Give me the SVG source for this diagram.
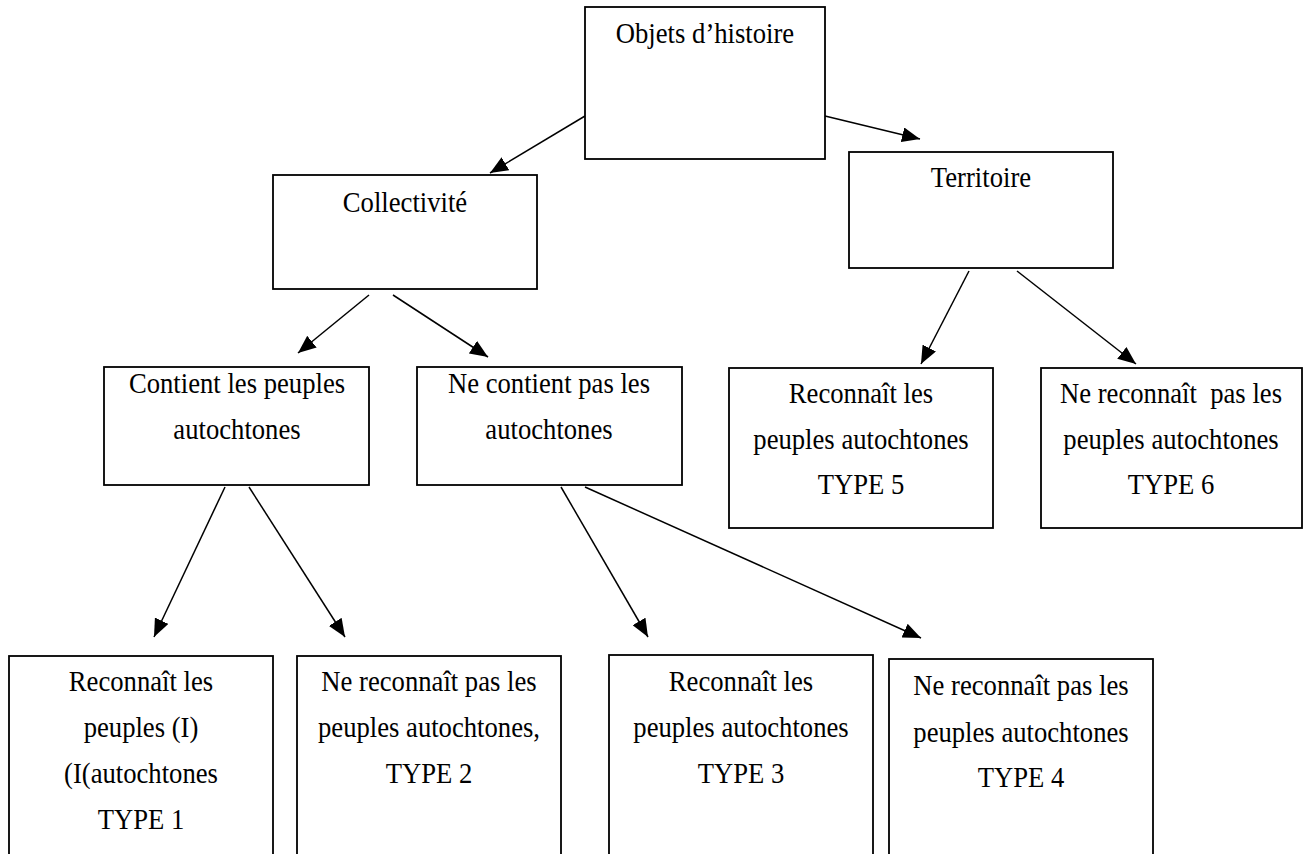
<svg xmlns="http://www.w3.org/2000/svg" width="1304" height="854" viewBox="0 0 1304 854">
<style>
.box{fill:#fff;stroke:#000;stroke-width:1.8}
.t{font-family:"Liberation Serif","Times New Roman",serif;font-size:26.67px;fill:#000;text-anchor:middle}
.c{stroke:#000;stroke-width:1.5;fill:none;marker-end:url(#ah)}
</style>
<defs>
<marker id="ah" markerUnits="userSpaceOnUse" markerWidth="18" markerHeight="15" refX="18" refY="7.5" orient="auto">
<path d="M0,0 L18,7.5 L0,15 z" fill="#000"/>
</marker>
</defs>
<rect width="1304" height="854" fill="#fff"/>
<g id="connectors">
<line class="c" x1="585" y1="116" x2="490" y2="173"/>
<line class="c" x1="825" y1="116" x2="920" y2="139"/>
<line class="c" x1="369" y1="295" x2="298" y2="353"/>
<line class="c" x1="393" y1="295" x2="488" y2="357"/>
<line class="c" x1="969" y1="271" x2="921" y2="364"/>
<line class="c" x1="1017" y1="271" x2="1136" y2="364"/>
<line class="c" x1="225" y1="487" x2="154" y2="637"/>
<line class="c" x1="249" y1="487" x2="345" y2="637"/>
<line class="c" x1="561" y1="487" x2="648" y2="637"/>
<line class="c" x1="585" y1="487" x2="921" y2="638"/>
</g>
<g id="objets">
<rect class="box" x="585" y="7" width="240" height="152"/>
<text class="t" transform="translate(705 43) scale(1 1.12)">Objets d’histoire</text>
</g>
<g id="collectivite">
<rect class="box" x="273" y="175" width="264" height="114"/>
<text class="t" transform="translate(405 212) scale(1 1.12)">Collectivité</text>
</g>
<g id="territoire">
<rect class="box" x="849" y="152" width="264" height="116"/>
<text class="t" transform="translate(981 187) scale(1 1.12)">Territoire</text>
</g>
<g id="contient">
<rect class="box" x="104" y="367" width="265" height="118"/>
<text class="t" transform="translate(237 393) scale(1 1.12)">Contient les peuples</text>
<text class="t" transform="translate(237 439) scale(1 1.12)">autochtones</text>
</g>
<g id="necontient">
<rect class="box" x="417" y="367" width="265" height="118"/>
<text class="t" transform="translate(549 393) scale(1 1.12)">Ne contient pas les</text>
<text class="t" transform="translate(549 439) scale(1 1.12)">autochtones</text>
</g>
<g id="type5">
<rect class="box" x="729" y="368" width="264" height="160"/>
<text class="t" transform="translate(861 403) scale(1 1.12)">Reconnaît les</text>
<text class="t" transform="translate(861 449) scale(1 1.12)">peuples autochtones</text>
<text class="t" transform="translate(861 494) scale(1 1.12)">TYPE 5</text>
</g>
<g id="type6">
<rect class="box" x="1041" y="368" width="261" height="160"/>
<text class="t" transform="translate(1171 403) scale(1 1.12)" xml:space="preserve">Ne reconnaît  pas les</text>
<text class="t" transform="translate(1171 449) scale(1 1.12)">peuples autochtones</text>
<text class="t" transform="translate(1171 494) scale(1 1.12)">TYPE 6</text>
</g>
<g id="type1">
<rect class="box" x="9" y="656" width="264" height="220"/>
<text class="t" transform="translate(141 691) scale(1 1.12)">Reconnaît les</text>
<text class="t" transform="translate(141 737) scale(1 1.12)">peuples (I)</text>
<text class="t" transform="translate(141 783) scale(1 1.12)">(I(autochtones</text>
<text class="t" transform="translate(141 829) scale(1 1.12)">TYPE 1</text>
</g>
<g id="type2">
<rect class="box" x="297" y="656" width="264" height="220"/>
<text class="t" transform="translate(429 691) scale(1 1.12)">Ne reconnaît pas les</text>
<text class="t" transform="translate(429 737) scale(1 1.12)">peuples autochtones,</text>
<text class="t" transform="translate(429 783) scale(1 1.12)">TYPE 2</text>
</g>
<g id="type3">
<rect class="box" x="609" y="655" width="264" height="220"/>
<text class="t" transform="translate(741 691) scale(1 1.12)">Reconnaît les</text>
<text class="t" transform="translate(741 737) scale(1 1.12)">peuples autochtones</text>
<text class="t" transform="translate(741 783) scale(1 1.12)">TYPE 3</text>
</g>
<g id="type4">
<rect class="box" x="889" y="659" width="264" height="220"/>
<text class="t" transform="translate(1021 695) scale(1 1.12)">Ne reconnaît pas les</text>
<text class="t" transform="translate(1021 742) scale(1 1.12)">peuples autochtones</text>
<text class="t" transform="translate(1021 787) scale(1 1.12)">TYPE 4</text>
</g>
</svg>
